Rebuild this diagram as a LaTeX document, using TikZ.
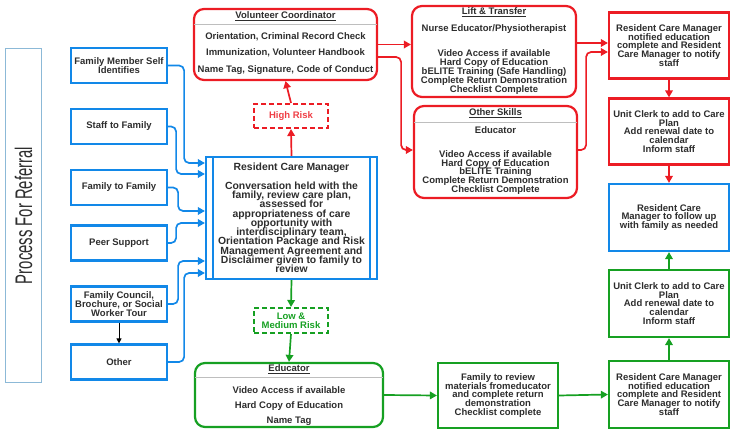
\documentclass[tikz,border=0pt]{standalone}
\usepackage{fontspec}
\usepackage{graphicx}
\setmainfont{Liberation Sans}
\usetikzlibrary{arrows.meta,calc}
\definecolor{cblue}{RGB}{18,136,232}
\definecolor{cred}{RGB}{236,28,36}
\definecolor{cgreen}{RGB}{22,160,34}
\definecolor{ctext}{RGB}{45,45,45}
\definecolor{clight}{RGB}{140,185,215}
\definecolor{csep}{RGB}{190,190,190}
\newcommand\fsm{\fontsize{9.5}{8.8}\selectfont\bfseries\lineskiplimit=-20pt\lineskip=0pt}
\newcommand\fbig{\fontsize{10.4}{9.3}\selectfont\bfseries\lineskiplimit=-20pt\lineskip=0pt}
\begin{document}
\begin{tikzpicture}[x=1pt,y=-1pt,
  box/.style={draw, line width=2.2pt, inner sep=0pt, text=ctext, align=center, font=\fsm},
  srcbox/.style={box, draw=cblue, minimum width=96pt, minimum height=35pt},
  rcol/.style={box, minimum width=120pt, minimum height=66pt},
  rnd/.style={draw, line width=2.2pt, rounded corners=10pt, inner sep=0pt},
  dbox/.style={draw, line width=2pt, dash pattern=on 5pt off 3pt, minimum width=74pt, minimum height=24pt, inner sep=0pt, align=center, font=\fsm},
  txt/.style={text=ctext, font=\fsm, inner sep=0pt, align=center},
  sepline/.style={draw=csep, line width=0.8pt},
  arr/.style={line width=1.7pt, -{Triangle[length=7pt,width=7.5pt]}},
  barrow/.style={arr, draw=cblue, rounded corners=5pt},
  rarrow/.style={arr, draw=cred, rounded corners=5pt},
  garrow/.style={arr, draw=cgreen},
]
\useasboundingbox (0,0) rectangle (738,435);

% Process title
\node[draw=clight, line width=1pt, minimum width=36pt, minimum height=334pt, inner sep=0pt] (pbox) at (23.5,215.5) {};
\node[rotate=90, text=ctext, inner sep=0pt, font=\fontsize{24}{26}\selectfont] (ptitle) at (pbox.center) {\scalebox{0.62}[1]{Process For Referral}};

% source boxes
\node[srcbox] (fam) at (119,65.5) {Family Member Self\\Identifies};
\node[srcbox] (staff) at (119,126.5) {Staff to Family};
\node[srcbox] (f2f) at (119,187.5) {Family to Family};
\node[srcbox] (peer) at (119,243) {Peer Support};
\node[srcbox] (council) at (119,304) {Family Council,\\Brochure, or Social\\Worker Tour};
\node[srcbox] (other) at (119,362) {Other};

% Resident Care Manager
\node[box, draw=cblue, minimum width=171pt, minimum height=122pt, font=\fbig] (rcm) at (291.5,218) {Resident Care Manager\\[9.3pt]Conversation held with the\\family, review care plan,\\assessed for\\appropriateness of care\\opportunity with\\interdisciplinary team,\\Orientation Package and Risk\\Management Agreement and\\Disclaimer given to family to\\review};
\draw[cblue, line width=2pt] ($(rcm.north west)+(8,0)$) -- ($(rcm.south west)+(8,0)$);
\draw[cblue, line width=2pt] ($(rcm.north east)+(-8,0)$) -- ($(rcm.south east)+(-8,0)$);

% Volunteer Coordinator
\node[rnd, draw=cred, minimum width=183pt, minimum height=71pt] (vc) at (285.5,44.5) {};
\draw[sepline] ($(vc.west)+(1.1,-20.5)$) -- ($(vc.east)+(-1.1,-20.5)$);
\node[txt] (vch) at (285.5,16) {\underline{Volunteer Coordinator}};
\node[txt] (vc1) at (285.5,37) {Orientation, Criminal Record Check};
\node[txt] (vc2) at (285.5,53) {Immunization, Volunteer Handbook};
\node[txt] (vc3) at (285.5,70) {Name Tag, Signature, Code of Conduct};

% High risk
\node[dbox, draw=cred, text=cred!85!white] (hr) at (291,116) {High Risk};

% Lift & Transfer
\node[rnd, draw=cred, minimum width=164pt, minimum height=91pt] (lt) at (494,51.5) {};
\node[txt] (lth) at (494,12) {\underline{Lift \& Transfer}};
\node[txt] (lt1) at (494,29) {Nurse Educator/Physiotherapist};
\node[txt] (lt2) at (494,72) {Video Access if available\\Hard Copy of Education\\bELITE Training (Safe Handling)\\Complete Return Demonstration\\Checklist Complete};

% Other Skills
\node[rnd, draw=cred, minimum width=163pt, minimum height=92pt] (os) at (495.5,152) {};
\draw[sepline] ($(os.west)+(1.1,-30)$) -- ($(os.east)+(-1.1,-30)$);
\node[txt] (osh) at (495.5,113) {\underline{Other Skills}};
\node[txt] (os1) at (495.5,130) {Educator};
\node[txt] (os2) at (495.5,172.5) {Video Access if available\\Hard Copy of Education\\bELITE Training\\Complete Return Demonstration\\Checklist Complete};

% right column
\node[rcol, draw=cred] (rn1) at (669,45.5) {Resident Care Manager\\notified education\\complete and Resident\\Care Manager to notify\\staff};
\node[rcol, draw=cred] (uc1) at (669,131.5) {Unit Clerk to add to Care\\Plan\\Add renewal date to\\calendar\\Inform staff};
\node[rcol, draw=cblue, minimum height=67pt] (fu) at (669,217.5) {Resident Care\\Manager to follow up\\with family as needed};
\node[rcol, draw=cgreen, minimum height=67pt] (uc2) at (669,303.5) {Unit Clerk to add to Care\\Plan\\Add renewal date to\\calendar\\Inform staff};
\node[rcol, draw=cgreen, minimum height=67pt] (gn) at (669,394.5) {Resident Care Manager\\notified education\\complete and Resident\\Care Manager to notify\\staff};

% Low & Medium risk
\node[dbox, draw=cgreen, text=cgreen, minimum height=25pt] (lm) at (291,320.5) {Low \&\\Medium Risk};

% Educator
\node[rnd, draw=cgreen, minimum width=188pt, minimum height=64pt] (ed) at (289,395) {};
\draw[sepline] ($(ed.west)+(1.1,-18)$) -- ($(ed.east)+(-1.1,-18)$);
\node[txt] (edh) at (289,369) {\underline{Educator}};
\node[txt] (ed1) at (289,390) {Video Access if available};
\node[txt] (ed2) at (289,406) {Hard Copy of Education};
\node[txt] (ed3) at (289,421) {Name Tag};

% Family to review
\node[rcol, draw=cgreen, minimum height=65pt] (fr) at (498,395.5) {Family to review\\materials fromeducator\\and complete return\\demonstration\\Checklist complete};

% blue connectors
\draw[barrow] (fam.east) -- ++(16,0) |- ($(rcm.west)+(0,-55)$);
\draw[barrow] (staff.east) -- ++(8,0) |- ($(rcm.west)+(0,-44)$);
\draw[barrow] (f2f.east) -- ++(10,0) |- ($(rcm.west)+(0,-7)$);
\draw[barrow] (peer.east) -- ++(8,0) |- ($(rcm.west)+(0,5)$);
\draw[barrow] (council.east) -- ++(10,0) |- ($(rcm.west)+(0,43)$);
\draw[barrow] (other.east) -- ++(16,0) |- ($(rcm.west)+(0,55)$);
\draw[line width=1pt, -{Triangle[length=5pt,width=5pt]}] (council.south) -- (other.north);

% red connectors
\draw[rarrow] (rcm.north) -- (hr.south);
\draw[rarrow] (hr.north) -- (vc.south);
\draw[rarrow] (vc.east) -- (vc.east -| lt.west);
\draw[rarrow] ($(vc.east)+(0,12.5)$) -- ++(23,0) |- ($(os.west)+(0,-2)$);
\draw[rarrow] ($(lt.east)+(0,-8.5)$) -- ($(rn1.west)+(0,-2.5)$);
\draw[rarrow] ($(os.east)+(0,-2)$) -- ++(8,0) |- ($(rn1.west)+(0,6.5)$);
\draw[rarrow] (rn1.south) -- (uc1.north);
\draw[rarrow] (uc1.south) -- (fu.north);

% green connectors
\draw[garrow] (rcm.south) -- (lm.north);
\draw[garrow] (lm.south) -- (ed.north);
\draw[garrow] (ed.east) -- (fr.west);
\draw[garrow] (fr.east) -- (gn.west);
\draw[garrow] (gn.north) -- (uc2.south);
\draw[garrow] (uc2.north) -- (fu.south);
\end{tikzpicture}
\end{document}
